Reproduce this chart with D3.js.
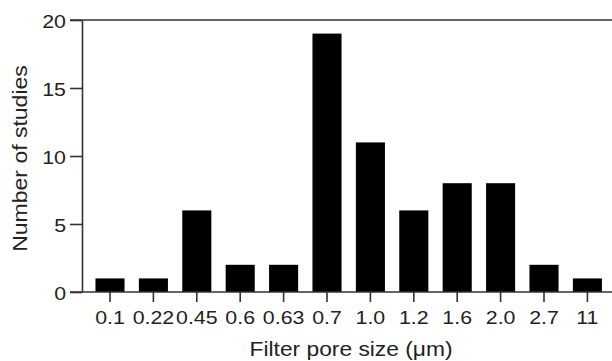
<!DOCTYPE html>
<html>
<head>
<meta charset="utf-8">
<script src="https://cdn.jsdelivr.net/npm/d3@7"></script>
<style>
  body { margin: 0; background: #fff; }
  text { font-family: "Liberation Sans", Arial, sans-serif; fill: #222; }
</style>
</head>
<body>
<script>
// Define data
const poreSizes = ['0.1', '0.22', '0.45', '0.6', '0.63', '0.7', '1.0', '1.2', '1.6', '2.0', '2.7', '11'];
const studyCounts = [1, 1, 6, 2, 2, 19, 11, 6, 8, 8, 2, 1];
const yTicks = [0, 5, 10, 15, 20];

const width = 612, height = 361;
const margin = { top: 20, bottom: 69, left: 82, right: 3 };
const stretch = 1.22; // tick digits in the source are wider than they are tall

let svg = d3.select('body').append('svg')
            .attr('width', width).attr('height', height);

const yscale = d3.scaleLinear()
                .domain([0, 20])
                .range([height - margin.bottom, margin.top]);

const xscale = d3.scaleBand()
                .domain(poreSizes)
                .range([88.3, 609.1])
                .paddingInner(0.33)
                .paddingOuter(0.165);

// bars
svg.selectAll('rect.bar')
   .data(poreSizes)
   .enter()
   .append('rect')
   .attr('class', 'bar')
   .attr('x', d => xscale(d))
   .attr('y', (d, i) => yscale(studyCounts[i]))
   .attr('width', xscale.bandwidth())
   .attr('height', (d, i) => yscale(0) - yscale(studyCounts[i]))
   .style('fill', '#000');

// top and bottom frame lines run to the right edge
[0, 20].forEach(v => {
  svg.append('line')
     .attr('x1', margin.left - 12).attr('x2', width)
     .attr('y1', yscale(v)).attr('y2', yscale(v))
     .style('stroke', '#333').style('stroke-width', 1.6);
});

const yaxis = svg.append('g')
                 .attr('transform', `translate(${margin.left}, 0)`)
                 .call(d3.axisLeft(yscale).tickValues(yTicks).tickSize(12).tickPadding(4).tickSizeOuter(0));
yaxis.select('.domain').style('stroke', '#333').style('stroke-width', 1.6);
yaxis.selectAll('.tick line').style('stroke', '#333').style('stroke-width', 1.6);
yaxis.selectAll('.tick text')
     .style('font-size', '17.5px').style('font-family', '"Liberation Sans", Arial, sans-serif')
     .attr('fill', '#222')
     .attr('x', -16 / stretch).attr('dy', '0.4em')
     .attr('transform', `scale(${stretch},1)`);

const xaxis = svg.append('g')
                 .attr('transform', `translate(0, ${yscale(0)})`)
                 .call(d3.axisBottom(xscale).tickSize(10).tickPadding(9.5));
xaxis.select('.domain').remove();
xaxis.selectAll('.tick line').style('stroke', '#333').style('stroke-width', 1.6);
xaxis.selectAll('.tick text')
     .style('font-size', '17.5px').style('font-family', '"Liberation Sans", Arial, sans-serif')
     .attr('fill', '#222')
     .attr('transform', `scale(${stretch},1)`);

svg.append('text')
   .attr('transform', 'translate(351, 355.5) scale(1.085,1)')
   .attr('text-anchor', 'middle')
   .style('font-size', '21px')
   .text('Filter pore size (μm)');

svg.append('text')
   .attr('transform', 'translate(27, 158.5) rotate(-90) scale(1.15,1)')
   .attr('text-anchor', 'middle')
   .style('font-size', '20px')
   .text('Number of studies');
</script>
</body>
</html>
